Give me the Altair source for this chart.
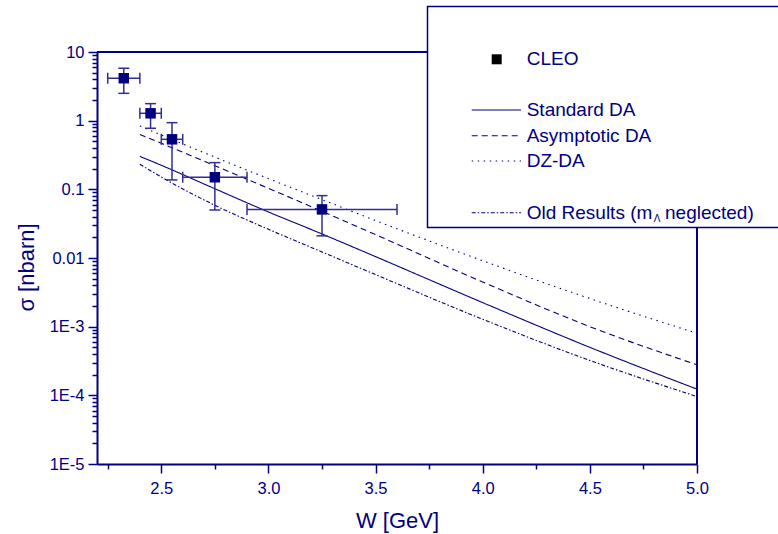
import altair as alt
import pandas as pd

NAVY = "#000080"
FONT = "Liberation Sans"

# CLEO data points
W_pts = [2.325, 2.45, 2.55, 2.75, 3.25]
W_lo = [2.25, 2.40, 2.50, 2.60, 2.90]
W_hi = [2.40, 2.50, 2.60, 2.90, 3.60]
sig = [4.15, 1.28, 0.535, 0.150, 0.051]
sig_lo = [2.5, 0.775, 0.137, 0.050, 0.021]
sig_hi = [5.8, 1.77, 0.935, 0.245, 0.081]

# theory curves
W_curve = [2.4, 2.5, 2.75, 3.0, 3.25, 3.5, 4.0, 4.5, 5.0]
standard = [0.302, 0.224, 0.102, 0.0468, 0.0224, 0.01047, 2.24e-3, 5.0e-4, 1.23e-4]
asymptotic = [0.631, 0.468, 0.221, 0.1035, 0.0479, 0.0219, 4.47e-3, 1.0e-3, 2.78e-4]
dzda = [0.838, 0.617, 0.295, 0.143, 0.0708, 0.0351, 9.12e-3, 2.57e-3, 8.0e-4]
old = [0.232, 0.151, 0.0586, 0.0262, 0.01225, 5.73e-3, 1.28e-3, 3.22e-4, 9.6e-5]

series_names = ["Standard DA", "Asymptotic DA", "DZ-DA", "Old Results"]
series_vals = [standard, asymptotic, dzda, old]
series_dash = [[1, 0], [6, 4], [1.5, 4.5], [4, 2, 1.5, 2]]

x_ticks = [2.25, 2.5, 2.75, 3.0, 3.25, 3.5, 3.75, 4.0, 4.25, 4.5, 4.75, 5.0]
y_decades = [-5, -4, -3, -2, -1, 0]
y_ticks = [float(f"{k}e{d}") for d in y_decades for k in range(1, 10)] + [10.0]

pts = pd.DataFrame({"W": W_pts, "Wlo": W_lo, "Whi": W_hi,
                    "s": sig, "slo": sig_lo, "shi": sig_hi})

xscale = alt.Scale(domain=[2.2, 5.0], nice=False, zero=False)
yscale = alt.Scale(type="log", domain=[1e-5, 10], nice=False)

xmajor = "abs(datum.value*2 - round(datum.value*2)) < 1e-6"
ymajor = "abs(log(datum.value)/LN10 - round(log(datum.value)/LN10)) < 1e-6"

xaxis = alt.Axis(
    values=x_ticks, title="W [GeV]", grid=False,
    labelExpr=f"{xmajor} ? format(datum.value, '.1f') : ''",
    tickSize={"condition": {"test": xmajor, "value": 9}, "value": 5},
    tickWidth=1.5, tickColor=NAVY, domainColor=NAVY, domainWidth=2,
    labelColor=NAVY, labelFont=FONT, labelFontSize=16.5, labelPadding=7,
    labelFlush=False, labelOverlap=False,
    titleColor=NAVY, titleFont=FONT, titleFontSize=22, titleFontWeight="normal",
    titleY=63, titleBaseline="alphabetic",
)
yaxis = alt.Axis(
    values=y_ticks, title="σ [nbarn]", grid=False,
    labelExpr=f"{ymajor} ? (datum.value >= 0.01 ? format(datum.value, '') : '1E' + round(log(datum.value)/LN10)) : ''",
    tickSize={"condition": {"test": ymajor, "value": 9}, "value": 5},
    tickWidth=1.5, tickColor=NAVY, domainColor=NAVY, domainWidth=2,
    labelColor=NAVY, labelFont=FONT, labelFontSize=16.5, labelPadding=4,
    labelFlush=False, labelOverlap=False,
    titleColor=NAVY, titleFont=FONT, titleFontSize=22, titleFontWeight="normal",
    titleX=-64, titleY=215, titleAngle=-90, titleBaseline="alphabetic", titleAlign="center",
)

layers = []

# curves
for name, vals, dash in zip(series_names, series_vals, series_dash):
    d = pd.DataFrame({"W": W_curve, "s": vals})
    layers.append(
        alt.Chart(d).mark_line(color=NAVY, strokeWidth=1.1, strokeDash=dash,
                               interpolate="monotone").encode(
            x=alt.X("W:Q", scale=xscale, axis=xaxis),
            y=alt.Y("s:Q", scale=yscale, axis=yaxis),
        )
    )

ERR = "#2f2f95"
base = alt.Chart(pts)
layers += [
    base.mark_rule(color=ERR, strokeWidth=1.5).encode(
        x=alt.X("W:Q", scale=xscale, axis=xaxis),
        y=alt.Y("slo:Q", scale=yscale, axis=yaxis), y2="shi:Q"),
    base.mark_rule(color=ERR, strokeWidth=1.5).encode(
        x=alt.X("Wlo:Q", scale=xscale, axis=xaxis), x2="Whi:Q",
        y=alt.Y("s:Q", scale=yscale, axis=yaxis)),
    base.mark_tick(color=ERR, orient="horizontal", size=11, thickness=1.5, opacity=1).encode(
        x=alt.X("W:Q", scale=xscale, axis=xaxis),
        y=alt.Y("slo:Q", scale=yscale, axis=yaxis)),
    base.mark_tick(color=ERR, orient="horizontal", size=11, thickness=1.5, opacity=1).encode(
        x=alt.X("W:Q", scale=xscale, axis=xaxis),
        y=alt.Y("shi:Q", scale=yscale, axis=yaxis)),
    base.mark_tick(color=ERR, orient="vertical", size=11, thickness=1.5, opacity=1).encode(
        x=alt.X("Wlo:Q", scale=xscale, axis=xaxis),
        y=alt.Y("s:Q", scale=yscale, axis=yaxis)),
    base.mark_tick(color=ERR, orient="vertical", size=11, thickness=1.5, opacity=1).encode(
        x=alt.X("Whi:Q", scale=xscale, axis=xaxis),
        y=alt.Y("s:Q", scale=yscale, axis=yaxis)),
    base.mark_square(color=NAVY, size=110, opacity=1).encode(
        x=alt.X("W:Q", scale=xscale, axis=xaxis),
        y=alt.Y("s:Q", scale=yscale, axis=yaxis)),
]

one = pd.DataFrame({"a": [0]})
# frame (top and right)
layers.append(alt.Chart(one).mark_rule(color=NAVY, strokeWidth=2).encode(
    x=alt.value(0), x2=alt.value(600), y=alt.value(0)))
layers.append(alt.Chart(one).mark_rule(color=NAVY, strokeWidth=2).encode(
    x=alt.value(600), y=alt.value(0), y2=alt.value(412)))

# legend box
layers.append(alt.Chart(one).mark_rect(fill="white", stroke=NAVY, strokeWidth=1.5).encode(
    x=alt.value(330.5), x2=alt.value(720), y=alt.value(-45.5), y2=alt.value(175.5)))

layers.append(alt.Chart(one).mark_square(color="black", size=100, opacity=1).encode(
    x=alt.value(399.7), y=alt.value(7.3)))

leg_text = ["CLEO", "Standard DA", "Asymptotic DA", "DZ-DA", "Old Results (m"]
leg_y = [7.3, 58, 83.7, 109, 160.7]
for t, yy in zip(leg_text, leg_y):
    layers.append(alt.Chart(one).mark_text(
        text=t, align="left", baseline="middle", font=FONT, fontSize=19, color=NAVY).encode(
        x=alt.value(429.7), y=alt.value(yy)))
layers.append(alt.Chart(one).mark_text(
    text="Λ", align="left", baseline="middle", font=FONT, fontSize=10, color=NAVY).encode(
    x=alt.value(556.8), y=alt.value(166.5)))
layers.append(alt.Chart(one).mark_text(
    text="neglected)", align="left", baseline="middle", font=FONT, fontSize=19, color=NAVY).encode(
    x=alt.value(568), y=alt.value(160.7)))

for dash, yy in zip(series_dash, leg_y[1:]):
    layers.append(alt.Chart(one).mark_rule(color=NAVY, strokeWidth=1.1, strokeDash=dash).encode(
        x=alt.value(374.7), x2=alt.value(424), y=alt.value(yy)))

chart = alt.layer(*layers).properties(
    width=600, height=412,
    padding={"left": 97, "top": 52, "right": 81, "bottom": 70},
    autosize=alt.AutoSizeParams(type="none"),
    background="white",
).configure_view(stroke=None)

chart.save("out.html", embed_options={"renderer": "svg", "actions": False})
